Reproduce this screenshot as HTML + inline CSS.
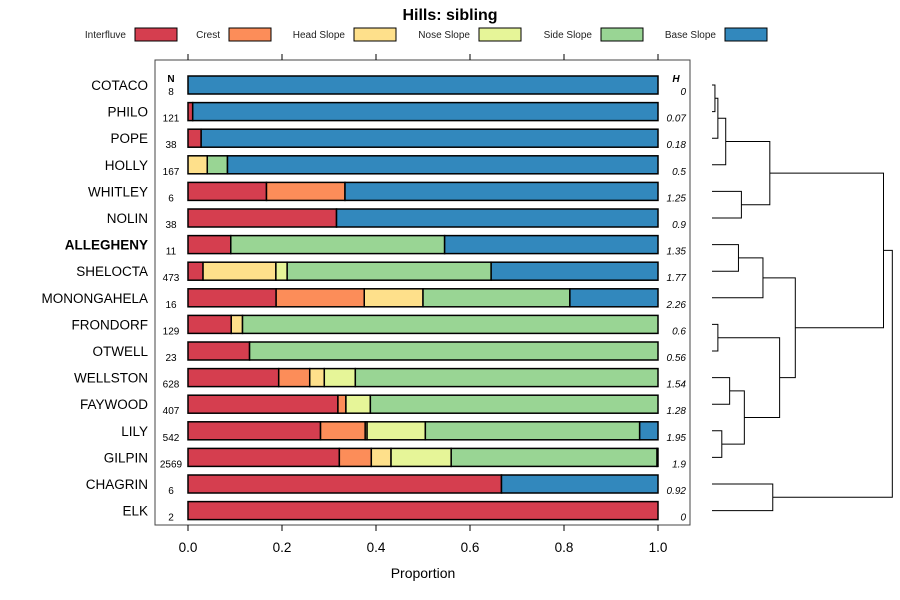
<!DOCTYPE html>
<html><head><meta charset="utf-8"><style>
body{margin:0;background:#fff;}
svg{font-family:"Liberation Sans",sans-serif;display:block}
</style></head><body>
<svg id="c" width="900" height="600"></svg>
<script>
const categories=["COTACO","PHILO","POPE","HOLLY","WHITLEY","NOLIN","ALLEGHENY","SHELOCTA","MONONGAHELA","FRONDORF","OTWELL","WELLSTON","FAYWOOD","LILY","GILPIN","CHAGRIN","ELK"];
const seriesNames=["Interfluve","Crest","Head Slope","Nose Slope","Side Slope","Base Slope"];
const interfluve=[0,0.01,0.028,0,0.167,0.316,0.091,0.032,0.1875,0.092,0.131,0.193,0.319,0.282,0.322,0.667,1];
const crest=[0,0,0,0,0.167,0,0,0,0.1875,0,0,0.066,0.017,0.095,0.068,0,0];
const headSlope=[0,0,0,0.041,0,0,0,0.155,0.125,0.024,0,0.031,0,0.004,0.042,0,0];
const noseSlope=[0,0,0,0,0,0,0,0.024,0,0,0,0.066,0.052,0.124,0.128,0,0];
const sideSlope=[0,0,0,0.043,0,0,0.455,0.434,0.3125,0.884,0.869,0.644,0.612,0.456,0.438,0,0];
const baseSlope=[1,0.99,0.972,0.916,0.666,0.684,0.454,0.355,0.1875,0,0,0,0,0.039,0.002,0.333,0];
const nValues=["8","121","38","167","6","38","11","473","16","129","23","628","407","542","2569","6","2"];
const hValues=["0","0.07","0.18","0.5","1.25","0.9","1.35","1.77","2.26","0.6","0.56","1.54","1.28","1.95","1.9","0.92","0"];
const xTicks=[0,0.2,0.4,0.6,0.8,1.0];
const xTickLabels=["0.0","0.2","0.4","0.6","0.8","1.0"];
// dendrogram merges: [leftNode,rightNode,height]; leaves are 0..16, merged nodes 17+
const merges=[[0,1,0.3],[17,2,0.6],[18,3,1.4],[4,5,3.0],[19,20,5.9],[6,7,2.7],[22,8,5.2],[9,10,0.6],[11,12,1.8],[13,14,1.0],[25,26,3.3],[24,27,6.9],[23,28,8.5],[21,29,17.5],[15,16,6.2],[30,31,18.4]];
const colors=["#D53E4F","#FC8D59","#FEE08B","#E6F598","#99D594","#3288BD"];
const series=[interfluve,crest,headSlope,noseSlope,sideSlope,baseSlope];

const NS="http://www.w3.org/2000/svg",svg=document.getElementById('c');
function mk(t,a,txt,p){const e=document.createElementNS(NS,t);for(const k in a)e.setAttribute(k,a[k]);if(txt!=null)e.textContent=txt;(p||svg).appendChild(e);return e;}
const x0=188,x1=658;const X=v=>x0+(x1-x0)*v;
const Y=i=>85+i*26.6;
let t=mk('text',{x:450,y:20,'text-anchor':'middle','font-size':16,'font-weight':'bold'},'Hills: sibling');

// legend
const legTextEnd=[126,220,345,470,592,716];
seriesNames.forEach((s,i)=>{
 const g=mk('g',{});
 
 mk('text',{x:legTextEnd[i],y:38,'text-anchor':'end','font-size':10,fill:'#222'},s,g);
 mk('rect',{x:legTextEnd[i]+9,y:28,width:42,height:13,fill:colors[i],stroke:'#000','stroke-width':1},null,g);
});
// plot box
let box=mk('rect',{x:155,y:60,width:535,height:465,fill:'none',stroke:'#444','stroke-width':1});

xTicks.forEach((v,i)=>{
 mk('line',{x1:X(v),x2:X(v),y1:54,y2:60,stroke:'#000'});
 mk('line',{x1:X(v),x2:X(v),y1:525,y2:531,stroke:'#000'});
 let l=mk('text',{x:X(v),y:552,'text-anchor':'middle','font-size':13.5},xTickLabels[i]);
 
});
let xt=mk('text',{x:423,y:578,'text-anchor':'middle','font-size':14},'Proportion');

mk('text',{x:171,y:82,'text-anchor':'middle','font-size':10,'font-weight':'bold'},'N');
mk('text',{x:676,y:82,'text-anchor':'middle','font-size':10,'font-weight':'bold','font-style':'italic'},'H');
categories.forEach((c,i)=>{
 const y=Y(i);
 let l=mk('text',{x:148,y:y+5,'text-anchor':'end','font-size':13.5,'font-weight':c==='ALLEGHENY'?'bold':'normal'},c);
 
 let n=mk('text',{x:171,y:y+10,'text-anchor':'middle','font-size':10},nValues[i]);
 
 let h=mk('text',{x:686,y:y+10,'text-anchor':'end','font-size':10,'font-style':'italic'},hValues[i]);
 
 let cum=0;
 series.forEach((s,k)=>{
  const v=s[i];if(v<=0)return;
  let r=mk('rect',{x:X(cum),y:y-9,width:X(cum+v)-X(cum),height:18,fill:colors[k],stroke:'#000','stroke-width':1.5});
  
  cum+=v;
 });
});
// dendrogram
const D0=712,DS=9.8;const DX=h=>D0+h*DS;
const nodes=categories.map((c,i)=>({y:Y(i),h:0}));
merges.forEach(m=>{
 const a=nodes[m[0]],b=nodes[m[1]],hx=DX(m[2]);
 let p=mk('path',{d:`M${DX(a.h)},${a.y}H${hx}V${b.y}H${DX(b.h)}`,fill:'none',stroke:'#000','stroke-width':1});
 
 nodes.push({y:(a.y+b.y)/2,h:m[2]});
});
</script>
</body></html>
